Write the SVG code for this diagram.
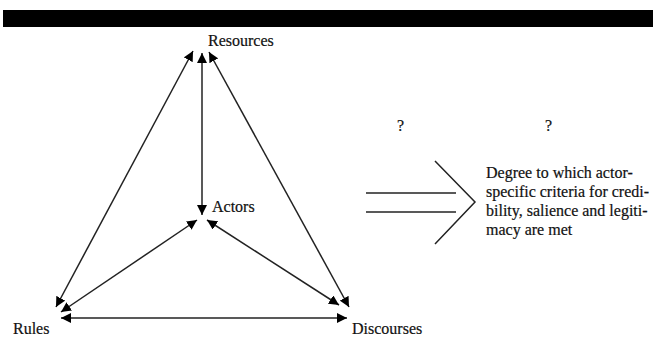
<svg xmlns="http://www.w3.org/2000/svg" width="653" height="338" viewBox="0 0 653 338">
<defs>
<marker id="ah" viewBox="0 0 10 10" refX="10" refY="5" markerWidth="10" markerHeight="10" markerUnits="userSpaceOnUse" orient="auto-start-reverse">
<path d="M0,0 L10,5 L0,10 z" fill="#000"/>
</marker>
<style>
text{font-family:"Liberation Serif","Times New Roman",serif;font-size:16px;fill:#111;stroke:#111;stroke-width:0.2}
.c line{stroke:#222;stroke-width:1.5;fill:none}
.b{stroke:#222;stroke-width:1.5;fill:none}
</style>
</defs>
<rect width="653" height="338" fill="#fff"/>
<rect x="3" y="10" width="650" height="17" fill="#000"/>
<g id="resources"><text x="208" y="46">Resources</text></g>
<g id="actors"><text x="212" y="212">Actors</text></g>
<g id="rules"><text x="13" y="334">Rules</text></g>
<g id="discourses"><text x="352" y="334">Discourses</text></g>
<g id="q1"><text x="397" y="131">?</text></g>
<g id="q2"><text x="545" y="131">?</text></g>
<g id="outcome">
<text x="486" y="178">Degree to which actor-</text>
<text x="486" y="197">specific criteria for credi-</text>
<text x="486" y="216">bility, salience and legiti-</text>
<text x="486" y="235">macy are met</text>
</g>
<g id="bigarrow">
<line class="b" x1="366" y1="193" x2="456" y2="193"/>
<line class="b" x1="366" y1="212" x2="456" y2="212"/>
<polyline class="b" points="435,161 475,202 435,244"/>
</g>
<g id="connectors" class="c">
<line x1="193" y1="51" x2="56" y2="307" marker-start="url(#ah)" marker-end="url(#ah)"/>
<line x1="202" y1="53" x2="202" y2="215" marker-start="url(#ah)" marker-end="url(#ah)"/>
<line x1="209" y1="52" x2="349" y2="307" marker-start="url(#ah)" marker-end="url(#ah)"/>
<line x1="197" y1="220" x2="61" y2="312" marker-start="url(#ah)" marker-end="url(#ah)"/>
<line x1="207" y1="220" x2="339" y2="305" marker-start="url(#ah)" marker-end="url(#ah)"/>
<line x1="61" y1="318" x2="347" y2="318" marker-start="url(#ah)" marker-end="url(#ah)"/>
</g>
</svg>
